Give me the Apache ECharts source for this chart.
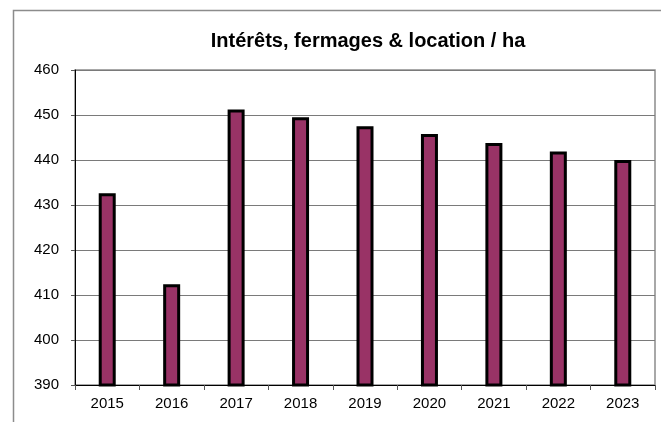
<!DOCTYPE html>
<html>
<head>
<meta charset="utf-8">
<script src="https://cdn.jsdelivr.net/npm/echarts@6/dist/echarts.min.js"></script>
<style>
  html, body { margin: 0; padding: 0; background: #fff; }
  #main { width: 661px; height: 422px; }
</style>
</head>
<body>
<div id="main"></div>
<script>
// data
const years = ['2015', '2016', '2017', '2018', '2019', '2020', '2021', '2022', '2023'];
const values = [432.6, 412.4, 451.2, 449.5, 447.5, 445.8, 443.8, 441.9, 440.0];
const yMin = 390;
const yMax = 460;
const yStep = 10;

const font = '"Liberation Sans", Arial, sans-serif';
var myChart = echarts.init(document.getElementById('main'));

var option = {
  animation: false,
  textStyle: { fontFamily: font },
  title: {
    text: 'Intérêts, fermages & location / ha',
    left: 363,
    top: 26,
    textAlign: 'center',
    textStyle: {
      fontFamily: font,
      fontSize: 20,
      fontWeight: 'bold',
      color: '#000',
    },
  },
  // outer chart frame (cut off at right and bottom)
  graphic: [
    {
      type: 'rect',
      shape: { x: 13.5, y: 10.5, width: 800, height: 600 },
      style: { fill: 'none', stroke: '#8c8c8c', lineWidth: 1.5 },
      silent: true,
      z: -1,
    },
  ],
  grid: {
    left: 75,
    top: 70,
    width: 580,
    height: 315,
    show: true,
    borderColor: '#8c8c8c',
    borderWidth: 1.5,
    backgroundColor: '#fff',
  },
  xAxis: {
    type: 'category',
    data: years,
    boundaryGap: true,
    axisLine: { show: true, lineStyle: { color: '#000', width: 1 } },
    axisTick: { show: true, alignWithLabel: false, length: 5, lineStyle: { color: '#555' } },
    axisLabel: { color: '#000', fontSize: 15, margin: 11, fontFamily: font },
    splitLine: { show: false },
  },
  yAxis: {
    type: 'value',
    min: yMin,
    max: yMax,
    interval: yStep,
    axisLine: { show: true, lineStyle: { color: '#000', width: 1 } },
    axisTick: { show: true, length: 4, lineStyle: { color: '#555' } },
    axisLabel: { color: '#000', fontSize: 15, margin: 16, fontFamily: font },
    splitLine: { show: true, lineStyle: { color: '#7a7a7a', width: 1 } },
  },
  series: [
    {
      type: 'bar',
      data: values,
      barWidth: 17,
      itemStyle: {
        color: '#993366',
        borderColor: '#000',
        borderWidth: 3,
      },
    },
  ],
};

option && myChart.setOption(option);
</script>
</body>
</html>
